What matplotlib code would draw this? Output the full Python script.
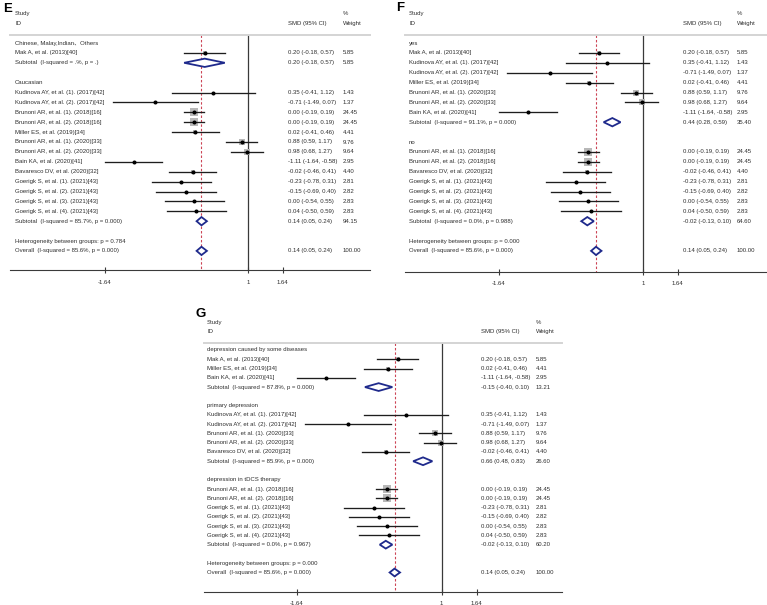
import matplotlib
matplotlib.use("Agg")
import matplotlib.pyplot as plt
from matplotlib.patches import Polygon
from matplotlib.transforms import blended_transform_factory

plt.rcParams['font.family'] = ['Liberation Sans', 'Noto Sans CJK SC', 'DejaVu Sans']

# ---- data -------------------------------------------------------------
study_ids = [
    "Mak A, et al. (2013)[40]",
    "Kudinova AY, et al. (1). (2017)[42]",
    "Kudinova AY, et al. (2). (2017)[42]",
    "Brunoni AR, et al. (1). (2018)[16]",
    "Brunoni AR, et al. (2). (2018)[16]",
    "Miller ES, et al. (2019)[34]",
    "Brunoni AR, et al. (1). (2020)[33]",
    "Brunoni AR, et al. (2). (2020)[33]",
    "Bain KA, et al. (2020)[41]",
    "Bavaresco DV, et al. (2020)[32]",
    "Goerigk S, et al. (1). (2021)[43]",
    "Goerigk S, et al. (2). (2021)[43]",
    "Goerigk S, et al. (3). (2021)[43]",
    "Goerigk S, et al. (4). (2021)[43]",
]
smd = [0.20, 0.35, -0.71, 0.00, 0.00, 0.02, 0.88, 0.98, -1.11, -0.02, -0.23, -0.15, 0.00, 0.04]
ci_lo = [-0.18, -0.41, -1.49, -0.19, -0.19, -0.41, 0.59, 0.68, -1.64, -0.46, -0.78, -0.69, -0.54, -0.50]
ci_hi = [0.57, 1.12, 0.07, 0.19, 0.19, 0.46, 1.17, 1.27, -0.58, 0.41, 0.31, 0.40, 0.55, 0.59]
weight = [5.85, 1.43, 1.37, 24.45, 24.45, 4.41, 9.76, 9.64, 2.95, 4.40, 2.81, 2.82, 2.83, 2.83]

overall = (0.14, 0.05, 0.24, 100.00)
overall_i2 = "85.6%"
overall_p = "0.000"
xticks = [-1.64, 1, 1.64]
xtick_labels = ["-1.64", "1", "1.64"]

# panel E: ethnicity
e_groups = ["Chinese, Malay,Indian、Others", "Caucasian"]
e_members = [[0], [1, 2, 3, 4, 5, 6, 7, 8, 9, 10, 11, 12, 13]]
e_sub_est = [0.20, 0.14]
e_sub_lo = [-0.18, 0.05]
e_sub_hi = [0.57, 0.24]
e_sub_w = [5.85, 94.15]
e_sub_i2 = [".%", "85.7%"]
e_sub_p = [".", "0.000"]
e_het_p = "0.784"

# panel F: yes / no
f_groups = ["yes", "no"]
f_members = [[0, 1, 2, 5, 6, 7, 8], [3, 4, 9, 10, 11, 12, 13]]
f_sub_est = [0.44, -0.02]
f_sub_lo = [0.28, -0.13]
f_sub_hi = [0.59, 0.10]
f_sub_w = [35.40, 64.60]
f_sub_i2 = ["91.1%", "0.0%"]
f_sub_p = ["0.000", "0.988"]
f_het_p = "0.000"

# panel G: type of depression
g_groups = ["depression caused by some diseases", "primary depression", "depression in tDCS therapy"]
g_members = [[0, 5, 8], [1, 2, 6, 7, 9], [3, 4, 10, 11, 12, 13]]
g_sub_est = [-0.15, 0.66, -0.02]
g_sub_lo = [-0.40, 0.48, -0.13]
g_sub_hi = [0.10, 0.83, 0.10]
g_sub_w = [13.21, 26.60, 60.20]
g_sub_i2 = ["87.8%", "85.9%", "0.0%"]
g_sub_p = ["0.000", "0.000", "0.967"]
g_het_p = "0.000"

# ---- drawing ----------------------------------------------------------
W, H = 767, 605
fig = plt.figure(figsize=(W / 100, H / 100), dpi=100)
fig.patch.set_facecolor("white")

FS = 4.3
TXT = "#2e2e2e"
NAVY = "#1f2a8c"


def fmt_ci(e, l, h):
    return "%.2f (%.2f, %.2f)" % (e, l, h)


def panel(left, right, top, bottom, x_ref, ppu, row0, row_px, lab_px, smd_px, wt_px,
          groups, members, s_est, s_lo, s_hi, s_w, s_i2, s_p, het_p):
    ax = fig.add_axes([left / W, 1 - bottom / H, (right - left) / W, (bottom - top) / H])
    px2x = lambda p: -1.64 + (p - x_ref) / ppu
    ax.set_xlim(px2x(left), px2x(right))
    ax.set_ylim((bottom - row0) / row_px, (top - row0) / row_px)
    xl, xs, xw = px2x(lab_px), px2x(smd_px), px2x(wt_px)
    ybot = (bottom - row0) / row_px

    tk = dict(fontsize=FS, color=TXT, va="center", ha="left")
    ax.text(xl, -3, "Study", **tk)
    ax.text(xl, -2, "ID", **tk)
    ax.text(xs, -2, "SMD (95% CI)", **tk)
    ax.text(xw, -3, "%", **tk)
    ax.text(xw, -2, "Weight", **tk)
    tr = blended_transform_factory(ax.transAxes, ax.transData)
    ax.plot([0, 1], [-0.8, -0.8], color="#d4d4d4", lw=1.4, transform=tr, clip_on=False)

    # reference lines
    ax.plot([1, 1], [-0.8, ybot], color="#3a3a3a", lw=0.9, zorder=1)
    ax.plot([overall[0]] * 2, [-0.8, ybot], color="#cc4455", lw=0.8,
            dashes=(2.2, 1.8), zorder=1)

    def diamond(r, e, l, h):
        ax.add_patch(Polygon([(l, r), (e, r - 0.42), (h, r), (e, r + 0.42)],
                             closed=True, fc="white", ec=NAVY, lw=1.3, zorder=4))

    r = 0
    for g in range(len(groups)):
        ax.text(xl, r, groups[g], **tk)
        r += 1
        for i in members[g]:
            ax.text(xl, r, study_ids[i], **tk)
            ax.text(xs, r, fmt_ci(smd[i], ci_lo[i], ci_hi[i]), **tk)
            ax.text(xw, r, "%.2f" % weight[i], **tk)
            ax.scatter([smd[i]], [r], s=weight[i] * 1.35, marker="s", color="#b8b8b8",
                       lw=0, zorder=2)
            ax.plot([ci_lo[i], ci_hi[i]], [r, r], color="#1e1e1e", lw=0.95, zorder=3)
            ax.plot([smd[i]], [r], "o", ms=1.9, color="black", zorder=3)
            r += 1
        ax.text(xl, r, "Subtotal  (I-squared = %s, p = %s)" % (s_i2[g], s_p[g]), **tk)
        ax.text(xs, r, fmt_ci(s_est[g], s_lo[g], s_hi[g]), **tk)
        ax.text(xw, r, "%.2f" % s_w[g], **tk)
        diamond(r, s_est[g], s_lo[g], s_hi[g])
        r += 2
    ax.text(xl, r, "Heterogeneity between groups: p = %s" % het_p, **tk)
    r += 1
    ax.text(xl, r, "Overall  (I-squared = %s, p = %s)" % (overall_i2, overall_p), **tk)
    ax.text(xs, r, fmt_ci(*overall[:3]), **tk)
    ax.text(xw, r, "%.2f" % overall[3], **tk)
    diamond(r, *overall[:3])

    for s in ["top", "left", "right"]:
        ax.spines[s].set_visible(False)
    ax.spines["bottom"].set_color("#3a3a3a")
    ax.spines["bottom"].set_linewidth(0.8)
    ax.set_yticks([])
    ax.set_xticks(xticks)
    ax.set_xticklabels(xtick_labels)
    ax.tick_params(axis="x", direction="inout", length=4, width=0.8, color="#3a3a3a",
                   labelsize=FS, labelcolor=TXT, pad=5)
    ax.patch.set_alpha(0)
    return ax


panel(10, 370, 5, 270, 105, 54.2, 43, 9.9, 15, 288, 343,
      e_groups, e_members, e_sub_est, e_sub_lo, e_sub_hi, e_sub_w, e_sub_i2, e_sub_p, e_het_p)
panel(405, 767, 5, 271.5, 499, 54.5, 43, 9.9, 409, 683, 737,
      f_groups, f_members, f_sub_est, f_sub_lo, f_sub_hi, f_sub_w, f_sub_i2, f_sub_p, f_het_p)
panel(204, 562, 310, 591.7, 297, 54.8, 350, 9.27, 207, 481, 536,
      g_groups, g_members, g_sub_est, g_sub_lo, g_sub_hi, g_sub_w, g_sub_i2, g_sub_p, g_het_p)

fig.text(3 / W, 1 - 3 / H, "E", fontsize=9.5, fontweight="bold", va="top", ha="left")
fig.text(396 / W, 1 - 2 / H, "F", fontsize=9.5, fontweight="bold", va="top", ha="left")
fig.text(196 / W, 1 - 308 / H, "G", fontsize=9.5, fontweight="bold", va="top", ha="left")

fig.savefig("out.png", dpi=100)
